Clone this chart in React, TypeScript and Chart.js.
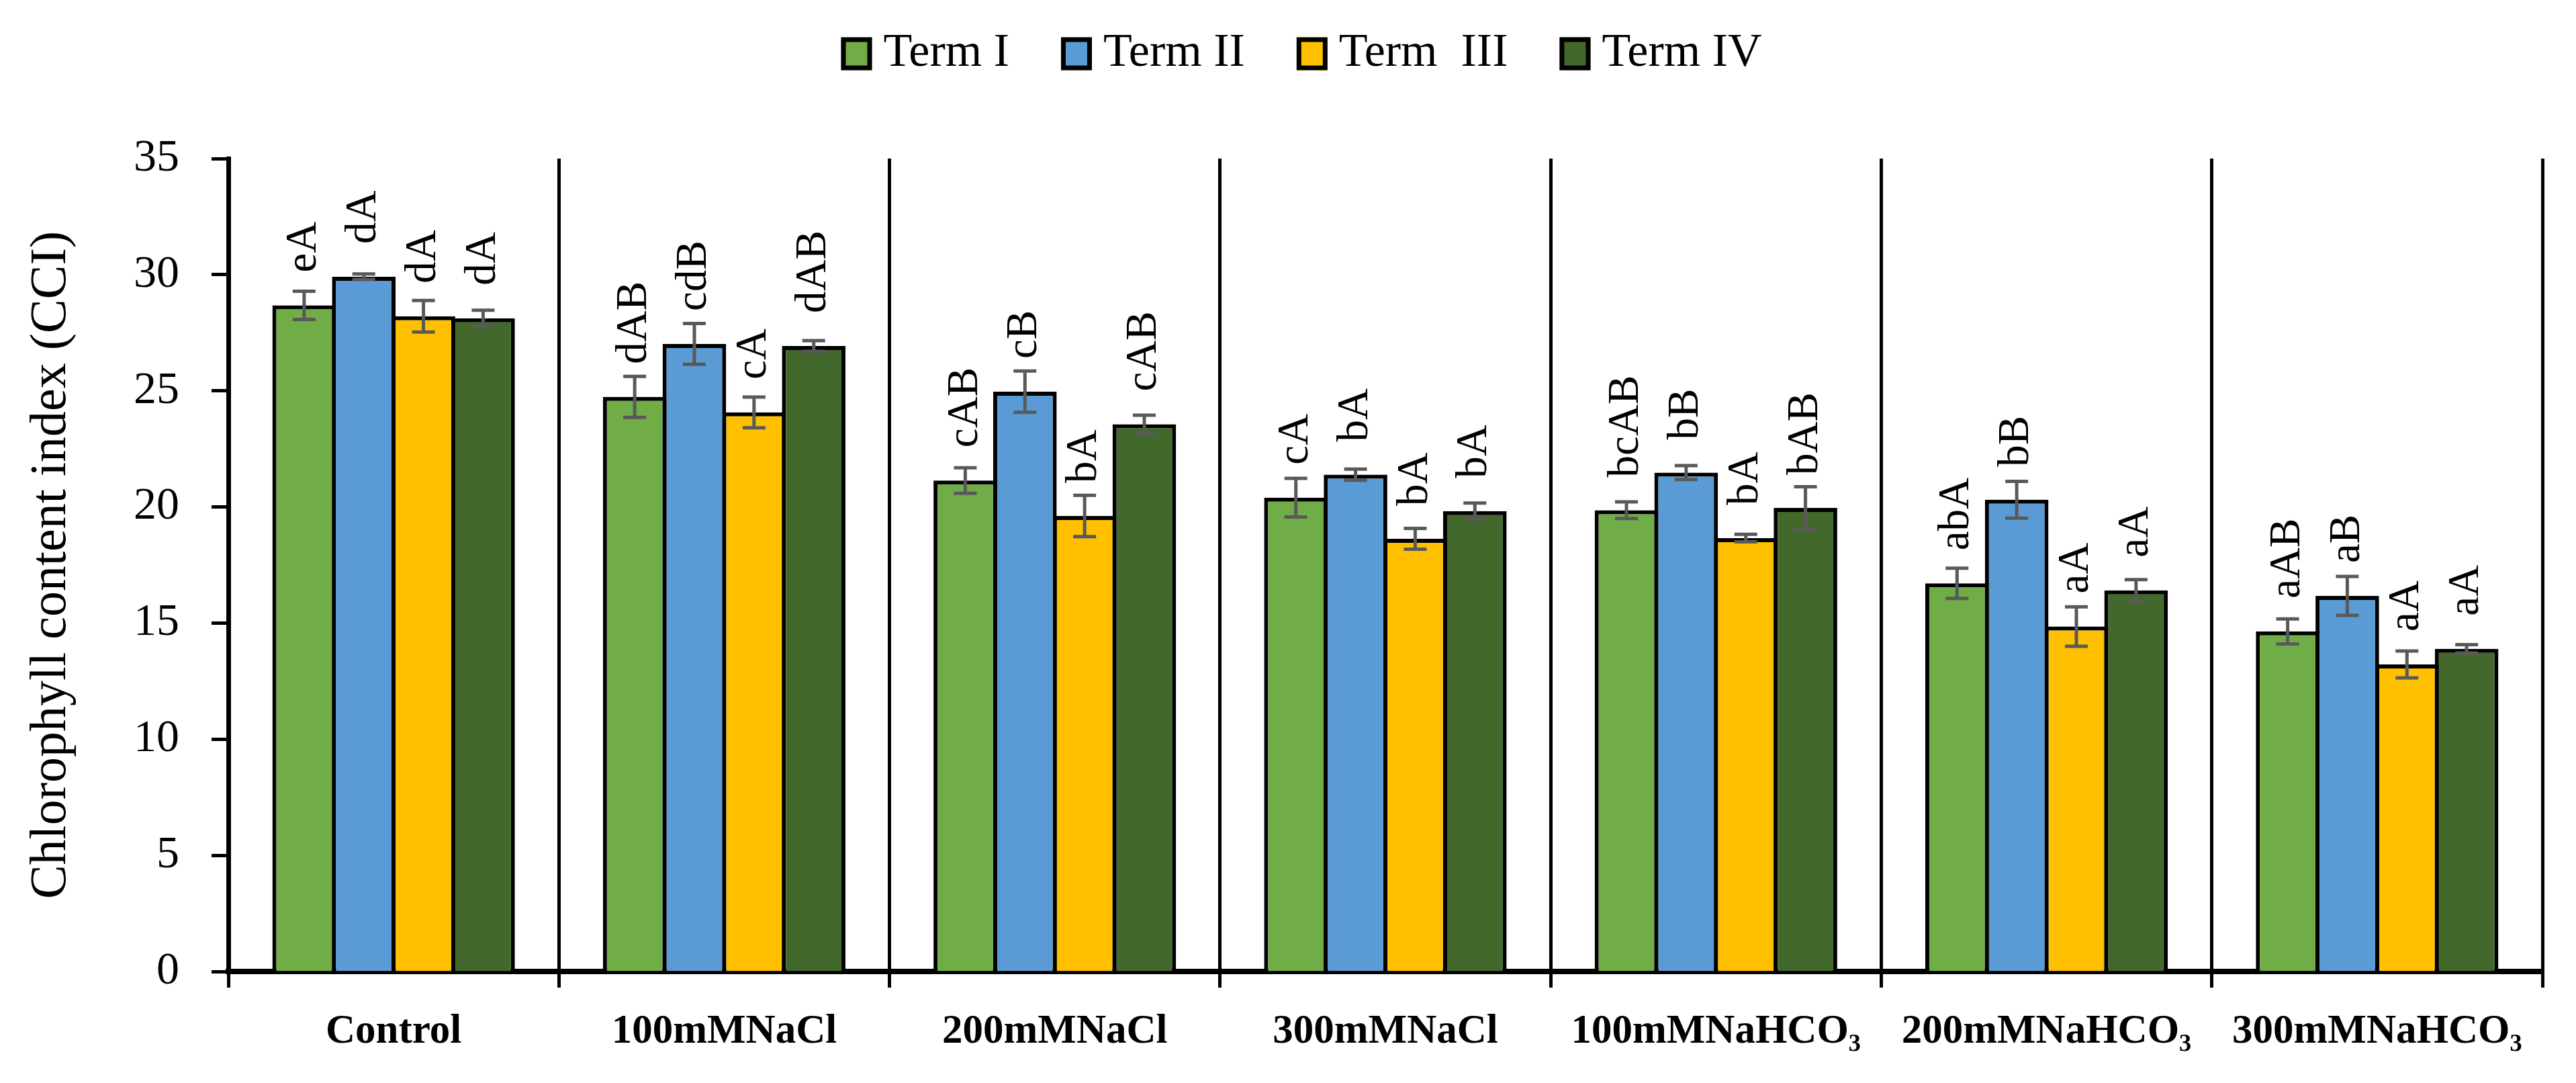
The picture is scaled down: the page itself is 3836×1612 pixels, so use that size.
import React, { useEffect, useRef } from 'react';
import { Chart, registerables } from 'chart.js';

Chart.register(...registerables);

const SERIF = "'Liberation Serif', serif";

const categories = ['Control', '100mMNaCl', '200mMNaCl', '300mMNaCl', '100mMNaHCO₃', '200mMNaHCO₃', '300mMNaHCO₃'];
const seriesNames = ['Term I', 'Term II', 'Term  III', 'Term IV'];
const seriesColors = ['#70AD47', '#5B9BD5', '#FFC000', '#43682B'];

const termI = [28.68, 24.74, 21.14, 20.4, 19.86, 16.71, 14.64];
const termII = [29.91, 27.02, 24.96, 21.39, 21.48, 20.31, 16.17];
const termIII = [28.21, 24.07, 19.61, 18.63, 18.66, 14.85, 13.22];
const termIV = [28.12, 26.93, 23.56, 19.82, 19.96, 16.41, 13.89];

const errI = [0.61, 0.88, 0.55, 0.83, 0.36, 0.65, 0.54];
const errII = [0.12, 0.88, 0.89, 0.24, 0.3, 0.79, 0.84];
const errIII = [0.68, 0.66, 0.89, 0.45, 0.16, 0.85, 0.58];
const errIV = [0.35, 0.23, 0.39, 0.35, 0.91, 0.46, 0.18];

const lblI = ['eA', 'dAB', 'cAB', 'cA', 'bcAB', 'abA', 'aAB'];
const lblII = ['dA', 'cdB', 'cB', 'bA', 'bB', 'bB', 'aB'];
const lblIII = ['dA', 'cA', 'bA', 'bA', 'bA', 'aA', 'aA'];
const lblIV = ['dA', 'dAB', 'cAB', 'bA', 'bAB', 'aA', 'aA'];

const yTicks = [0, 5, 10, 15, 20, 25, 30, 35];

const values = [termI, termII, termIII, termIV];
const errors = [errI, errII, errIII, errIV];
const letters = [lblI, lblII, lblIII, lblIV];

// error bars + significance letters
const annotations = {
  id: 'annotations',
  afterDatasetsDraw(chart: any) {
    const ctx = chart.ctx;
    const y = chart.scales.y;
    chart.data.datasets.forEach((ds: any, i: number) => {
      const meta = chart.getDatasetMeta(i);
      meta.data.forEach((bar: any, j: number) => {
        const v = ds.data[j];
        const e = errors[i][j];
        const top = y.getPixelForValue(v + e);
        const bot = y.getPixelForValue(v - e);
        ctx.save();
        ctx.strokeStyle = '#595959';
        ctx.lineWidth = 5;
        ctx.beginPath();
        ctx.moveTo(bar.x, top);
        ctx.lineTo(bar.x, bot);
        ctx.moveTo(bar.x - 17, top);
        ctx.lineTo(bar.x + 17, top);
        ctx.moveTo(bar.x - 17, bot);
        ctx.lineTo(bar.x + 17, bot);
        ctx.stroke();
        ctx.restore();

        ctx.save();
        ctx.translate(bar.x, y.getPixelForValue(v) - 49);
        ctx.rotate(-Math.PI / 2);
        ctx.font = `65px ${SERIF}`;
        ctx.fillStyle = '#000';
        ctx.textAlign = 'left';
        ctx.textBaseline = 'middle';
        ctx.fillText(letters[i][j], 0, 0);
        ctx.restore();
      });
    });
  },
};

// legend with tall boxes and thick outline
const topLegend = {
  id: 'topLegend',
  afterDraw(chart: any) {
    const ctx = chart.ctx;
    ctx.save();
    ctx.font = `70px ${SERIF}`;
    const boxW = 46;
    const boxH = 49;
    const gapText = 17;
    const gapItem = 77;
    const widths = chart.data.datasets.map((ds: any) => ctx.measureText(ds.label).width);
    const total = widths.reduce((a: number, w: number) => a + boxW + gapText + w, 0) + gapItem * (widths.length - 1);
    let x = chart.width / 2 + 20 - total / 2;
    const cy = 72;
    chart.data.datasets.forEach((ds: any, i: number) => {
      ctx.fillStyle = ds.backgroundColor;
      ctx.fillRect(x, cy - boxH / 2, boxW, boxH);
      ctx.lineWidth = 7;
      ctx.strokeStyle = '#000';
      ctx.strokeRect(x + 3.5, cy - boxH / 2 + 3.5, boxW - 7, boxH - 7);
      ctx.fillStyle = '#000';
      ctx.textAlign = 'left';
      ctx.textBaseline = 'middle';
      ctx.fillText(ds.label, x + boxW + gapText, cy);
      x += boxW + gapText + widths[i] + gapItem;
    });
    ctx.restore();
  },
};

const App: React.FC = () => {
  const chartRef = useRef<HTMLCanvasElement>(null);

  useEffect(() => {
    if (!chartRef.current) return;
    const chartInstance = new Chart(chartRef.current, {
      type: 'bar',
      data: {
        labels: categories,
        datasets: values.map((vals, i) => ({
          label: seriesNames[i],
          data: vals,
          backgroundColor: seriesColors[i],
          borderColor: '#000',
          borderWidth: 6,
          categoryPercentage: 0.722,
          barPercentage: 1.065,
        })),
      },
      options: {
        animation: false,
        responsive: true,
        maintainAspectRatio: false,
        layout: { padding: { top: 228, right: 42, bottom: 0, left: 0 } },
        plugins: {
          legend: { display: false },
          tooltip: { enabled: false },
        },
        scales: {
          x: {
            z: 1,
            offset: true,
            grid: {
              offset: true,
              color: '#000',
              lineWidth: 5,
              drawOnChartArea: true,
              drawTicks: true,
              tickLength: 24,
            },
            border: { display: true, color: '#000', width: 8 },
            ticks: {
              color: '#000',
              font: { family: SERIF, size: 61, weight: 'bold' },
              autoSkip: false,
              maxRotation: 0,
              minRotation: 0,
              padding: 30,
            },
            afterFit: (scale: any) => {
              scale.height = 158;
            },
          },
          y: {
            min: 0,
            max: 35,
            afterBuildTicks: (scale: any) => {
              scale.ticks = yTicks.map((v) => ({ value: v }));
            },
            grid: {
              drawOnChartArea: false,
              drawTicks: true,
              tickLength: 25,
              tickColor: '#000',
              tickWidth: 5,
            },
            border: { display: true, color: '#000', width: 7 },
            ticks: {
              color: '#000',
              font: { family: SERIF, size: 68 },
              padding: 48,
            },
            title: {
              display: true,
              text: 'Chlorophyll content index (CCI)',
              color: '#000',
              font: { family: SERIF, size: 76 },
              padding: { top: 23, bottom: 0 },
            },
            afterFit: (scale: any) => {
              scale.width = 332;
            },
          },
        },
      },
      plugins: [annotations, topLegend],
    });

    return () => {
      chartInstance.destroy();
    };
  }, []);

  return (
    <div style={{ position: 'relative', width: 3820, height: 1596 }}>
      <canvas ref={chartRef} />
    </div>
  );
};

export default App;
